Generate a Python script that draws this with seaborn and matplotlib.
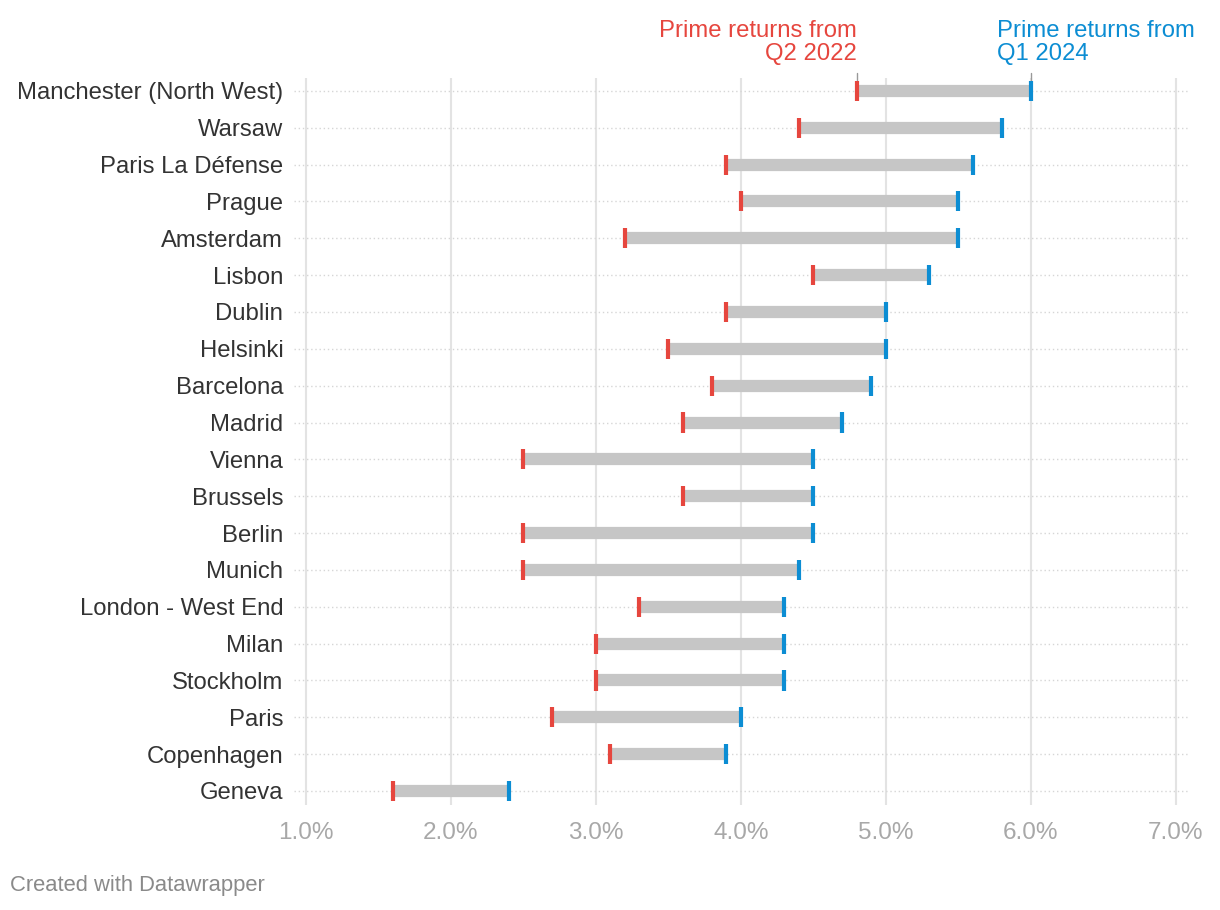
import numpy as np
import pandas as pd
import matplotlib
matplotlib.use("Agg")
import matplotlib.pyplot as plt
import seaborn as sns

cities = ["Manchester (North West)", "Warsaw", "Paris La Défense", "Prague", "Amsterdam",
          "Lisbon", "Dublin", "Helsinki", "Barcelona", "Madrid", "Vienna", "Brussels",
          "Berlin", "Munich", "London - West End", "Milan", "Stockholm", "Paris",
          "Copenhagen", "Geneva"]
q2_2022 = [4.8, 4.4, 3.9, 4.0, 3.2, 4.5, 3.9, 3.5, 3.8, 3.6, 2.5, 3.6, 2.5, 2.5, 3.3,
           3.0, 3.0, 2.7, 3.1, 1.6]
q1_2024 = [6.0, 5.8, 5.6, 5.5, 5.5, 5.3, 5.0, 5.0, 4.9, 4.7, 4.5, 4.5, 4.5, 4.4, 4.3,
           4.3, 4.3, 4.0, 3.9, 2.4]
x_ticks = [1, 2, 3, 4, 5, 6, 7]

RED = "#e6463e"
BLUE = "#0c8dd3"

sns.set_theme(style="white")
plt.rcParams["font.family"] = ["Liberation Sans", "DejaVu Sans"]

df = pd.DataFrame({"city": cities, "start": q2_2022, "end": q1_2024})
df["pos"] = np.arange(len(df))
long = pd.concat([
    pd.DataFrame({"pos": df["pos"], "value": df["start"], "series": "Q2 2022"}),
    pd.DataFrame({"pos": df["pos"], "value": df["end"], "series": "Q1 2024"}),
])

fig = plt.figure(figsize=(12.2, 9.1), dpi=100)
ax = fig.add_axes([0.2413, 0.1154, 0.9734 - 0.2413, 0.9143 - 0.1154])

# grid
for t in x_ticks:
    ax.axvline(t, color="#e3e3e3", lw=1.5, zorder=0)
ax.hlines(df["pos"], 0.92, 7.08, colors="#d6d6d6", linestyles=(0, (1, 2)), lw=1, zorder=1)

# ranges
ax.hlines(df["pos"], df["start"], df["end"], colors="#c6c6c6", lw=8.8, zorder=2)
sns.scatterplot(data=long, x="value", y="pos", hue="series",
                palette={"Q2 2022": RED, "Q1 2024": BLUE}, marker="|", s=210,
                linewidth=3, legend=False, zorder=3, ax=ax)

ax.set_xlim(0.92, 7.08)
ax.set_ylim(len(cities) - 1 + 0.38, -0.35)
ax.set_xticks(x_ticks)
ax.set_xticklabels([f"{t:.1f}%" for t in x_ticks], color="#a8a8a8", fontsize=17.5)
ax.set_yticks(df["pos"])
ax.set_yticklabels(cities, color="#333333", fontsize=17.2)
ax.tick_params(axis="both", length=0)
ax.tick_params(axis="y", pad=8)
ax.tick_params(axis="x", pad=12)
ax.set_xlabel("")
ax.set_ylabel("")
sns.despine(ax=ax, left=True, bottom=True)

# header annotations
for xv in [q2_2022[0], q1_2024[0]]:
    ax.plot([xv, xv], [-0.49, -0.14], color="#999999", lw=1, clip_on=False)
ax.text(q2_2022[0], -0.70, "Prime returns from\nQ2 2022", color=RED, fontsize=17.2,
        ha="right", va="bottom", linespacing=1.06, multialignment="right")
ax.text(5.766, -0.70, "Prime returns from\nQ1 2024", color=BLUE, fontsize=17.2,
        ha="left", va="bottom", linespacing=1.06)

fig.text(10 / 1220, 1 - 886 / 910, "Created with Datawrapper", color="#8a8a8a",
         fontsize=15.8, ha="left", va="center")

fig.savefig("out.png", dpi=100)
